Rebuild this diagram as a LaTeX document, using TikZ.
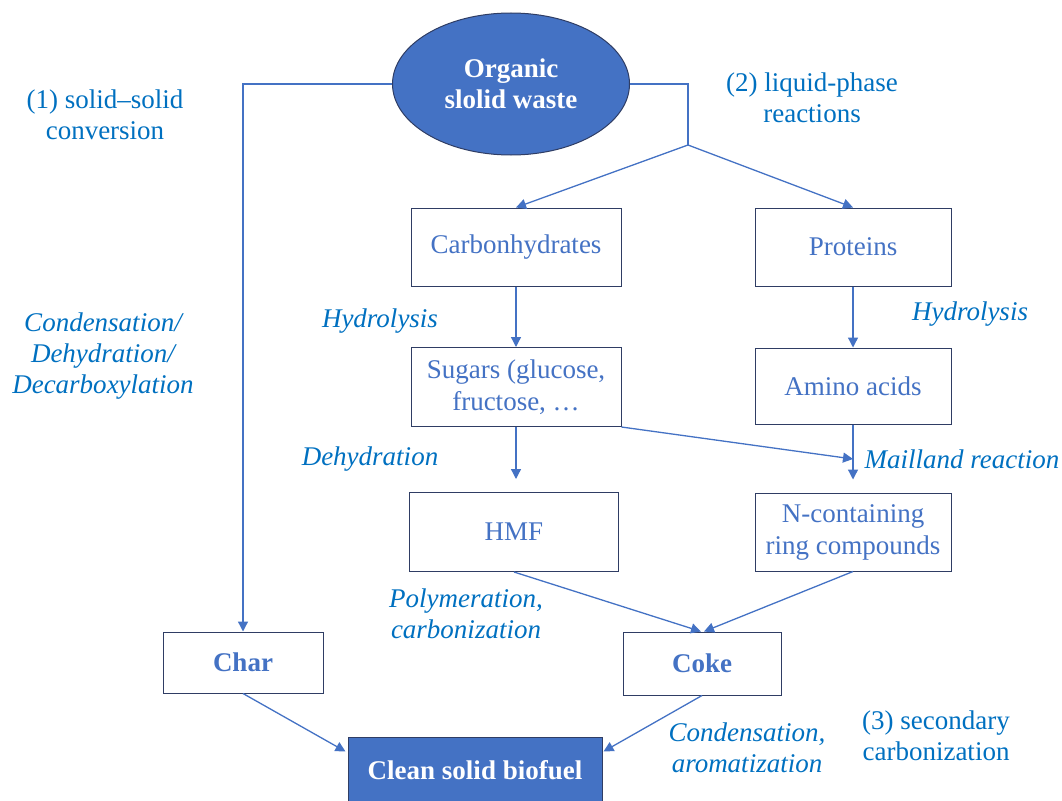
\documentclass[tikz,border=0pt]{standalone}
\usepackage{fontspec}
\setmainfont{Liberation Serif}
\usetikzlibrary{positioning,calc,arrows.meta,shapes}

\definecolor{boxblue}{RGB}{68,114,196}
\definecolor{labelblue}{RGB}{0,112,192}
\definecolor{edgenavy}{RGB}{47,61,100}

\tikzset{
	box/.style={draw=edgenavy, line width=1pt, fill=white, text=boxblue, align=center,
		minimum width=210pt, minimum height=78pt, inner sep=0pt,
		font=\fontsize{27}{32}\selectfont},
	boldbox/.style={box, font=\fontsize{27}{32}\selectfont\bfseries},
	filledbox/.style={boldbox, fill=boxblue, text=white},
	lab/.style={text=labelblue, align=center, inner sep=0pt,
		font=\fontsize{27}{31}\selectfont},
	itlab/.style={lab, font=\fontsize{27}{31}\selectfont\itshape},
	line/.style={draw=boxblue, line width=1.3pt},
	flow/.style={line, -{Triangle[width=10pt,length=10pt]}}
}

\begin{document}
\begin{tikzpicture}[x=1pt,y=-1pt]
		\useasboundingbox (0,0) rectangle (1062,800);
		
		% source
		\node[ellipse, draw=edgenavy, line width=1pt, fill=boxblue, text=white,
			minimum width=237pt, minimum height=142pt, inner sep=0pt, align=center,
			font=\fontsize{27}{31}\selectfont\bfseries] (waste) at (511,84) {Organic\\slolid waste};
		
		% boxes
		\node[box] (carb) at (516,247) {Carbonhydrates};
		\node[box, minimum width=196pt] (prot) at (853,247) {Proteins};
		\node[box, minimum height=79pt] (sugar) at (516,387) {Sugars (glucose,\\fructose, \dots};
		\node[box, minimum width=196pt, minimum height=76pt] (amino) at (853,386) {Amino acids};
		\node[box, minimum width=209pt, minimum height=79pt] (hmf) at (514,532) {HMF};
		\node[box, minimum width=196pt] (ncr) at (853,532) {N-containing\\ring compounds};
		\node[boldbox, minimum width=160pt, minimum height=61pt] (char) at (243,662.5) {Char};
		\node[boldbox, minimum width=158pt, minimum height=63pt] (coke) at (702,663.5) {Coke};
		\node[filledbox, minimum width=254pt, minimum height=66pt] (clean) at (475,770) {Clean solid biofuel};
		
		\coordinate (split) at (688,145);
		\coordinate (mail) at (853,459);
		
		% connectors
		\draw[flow] (waste.west) -| (char.north);
		\draw[line] (waste.east) -| (split);
		\draw[flow] (split) -- (carb.north);
		\draw[flow] (split) -- (prot.north);
		
		\draw[flow] (carb) -- (sugar);
		\draw[flow] (prot) -- (amino);
		\draw[flow, shorten >=13pt] (sugar.south) -- (sugar.south |- hmf.north);
		\draw[flow, shorten >=13pt] (amino) -- (ncr);
		\draw[flow] (sugar.south east) -- (mail);
		
		\draw[flow] (hmf.south) -- ($(coke.north)+(-1,0)$);
		\draw[flow] (ncr.south) -- ($(coke.north)+(2,0)$);
		
		\draw[flow] (char.south) -- ($(clean.north west)+(-2,15)$);
		\draw[flow] (coke.south) -- ($(clean.north east)+(1,15)$);
		
		% labels
		\node[lab] (l1) at (105,115) {(1) solid--solid\\conversion};
		\node[itlab] (l1a) at (103,356) {Condensation/\\Dehydration/\\Decarboxylation};
		\node[lab] (l2) at (812,98) {(2) liquid-phase\\reactions};
		\node[itlab] (hyd1) at (380,321) {Hydrolysis};
		\node[itlab] (hyd2) at (970,314) {Hydrolysis};
		\node[itlab] (dehy) at (370,459) {Dehydration};
		\node[itlab] (maill) at (962,459) {Mailland reaction};
		\node[itlab] (poly) at (466,614) {Polymeration,\\carbonization};
		\node[itlab] (arom) at (747,748) {Condensation,\\aromatization};
		\node[lab] (l3) at (936,736) {(3) secondary\\carbonization};
\end{tikzpicture}
\end{document}
